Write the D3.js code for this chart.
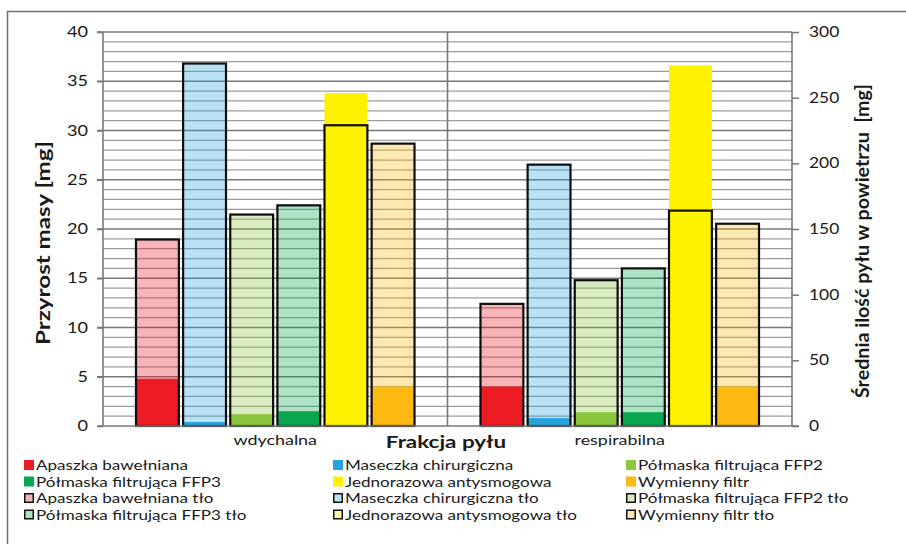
<!DOCTYPE html>
<html>
<head>
<meta charset="utf-8">
<script src="https://cdn.jsdelivr.net/npm/d3@7"></script>
<style>
  body { margin: 0; background: #fff; }
  svg { display: block; }
  text { font-family: Lato, "Open Sans", sans-serif; fill: #1a1a1a; }
</style>
</head>
<body>
<svg id="chart" width="906" height="544"></svg>
<script>
// Dust fractions on the category axis
const categories = ["wdychalna", "respirabilna"];

// Mask types, one bar each per fraction
const seriesNames = [
  "Apaszka bawełniana",
  "Maseczka chirurgiczna",
  "Półmaska filtrująca FFP2",
  "Półmaska filtrująca FFP3",
  "Jednorazowa antysmogowa",
  "Wymienny filtr"
];

// Mass gain of each mask [mg] (left axis)
const massWdychalna    = [4.8, 0.4, 1.2, 1.5, 33.8, 4.0];
const massRespirabilna = [4.0, 0.8, 1.4, 1.4, 36.6, 4.0];

// Background: mean amount of dust in the air [mg] (right axis)
const dustWdychalna    = [142, 276, 161, 168, 229, 215];
const dustRespirabilna = [93, 199, 111, 120, 164, 154];

const leftTicks  = [0, 5, 10, 15, 20, 25, 30, 35, 40];
const rightTicks = [0, 50, 100, 150, 200, 250, 300];

const seriesColors = ["#ed1c24", "#27a4de", "#8dc63f", "#0aa650", "#fff200", "#fdb913"];
const bgOpacity = 0.33;

const massByCategory = [massWdychalna, massRespirabilna];
const dustByCategory = [dustWdychalna, dustRespirabilna];

const svg = d3.select("#chart");
const plot = { left: 103, right: 792, top: 32, bottom: 426 };
const SX = 1.28; // horizontal text stretch

function stretch(sel, k) {
  sel.each(function () {
    const len = this.getComputedTextLength();
    d3.select(this).attr("textLength", len * k).attr("lengthAdjust", "spacingAndGlyphs");
  });
}

// Outer frame
svg.append("rect")
  .attr("x", 7.5).attr("y", 11.5).attr("width", 1000).attr("height", 1000)
  .attr("fill", "none").attr("stroke", "#707070").attr("stroke-width", 1.5);

// Scales
const x0 = d3.scaleBand().domain(categories).range([plot.left, plot.right]).padding(0);
const x1 = d3.scaleBand().domain(d3.range(seriesNames.length))
  .range([0, x0.bandwidth()]).paddingInner(0.09).paddingOuter(0.7);
const yL = d3.scaleLinear().domain([0, 40]).range([plot.bottom, plot.top]);
const yR = d3.scaleLinear().domain([0, 300]).range([plot.bottom, plot.top]);

// Gridlines: minor every 1 mg, major every 5 mg
const grid = svg.append("g");
grid.selectAll("line.minor")
  .data(d3.range(1, 40).filter(v => v % 5 !== 0))
  .join("line").attr("class", "minor")
  .attr("x1", plot.left).attr("x2", plot.right)
  .attr("y1", d => yL(d)).attr("y2", d => yL(d))
  .attr("stroke", "#9c9c9c").attr("stroke-width", 1.2);
grid.selectAll("line.major")
  .data(leftTicks.filter(v => v > 0))
  .join("line").attr("class", "major")
  .attr("x1", plot.left - 6).attr("x2", plot.right)
  .attr("y1", d => yL(d)).attr("y2", d => yL(d))
  .attr("stroke", "#777").attr("stroke-width", 1.6);

// Vertical lines: axes and category divider
const vlines = [plot.left, x0("respirabilna"), plot.right];
grid.selectAll("line.v").data(vlines).join("line").attr("class", "v")
  .attr("x1", d => d).attr("x2", d => d)
  .attr("y1", plot.top).attr("y2", plot.bottom)
  .attr("stroke", "#777").attr("stroke-width", 1.6);

// Solid bars: mass gain
const groups = svg.append("g").selectAll("g.cat").data(categories).join("g")
  .attr("class", "cat").attr("transform", d => `translate(${x0(d)},0)`);

groups.each(function (cat, ci) {
  const g = d3.select(this);
  g.selectAll("rect.mass").data(massByCategory[ci]).join("rect").attr("class", "mass")
    .attr("x", (d, i) => x1(i)).attr("width", x1.bandwidth())
    .attr("y", d => yL(d)).attr("height", d => yL(0) - yL(d))
    .attr("fill", (d, i) => seriesColors[i]);
});

// Outlined translucent bars: dust in the air
groups.each(function (cat, ci) {
  const g = d3.select(this);
  g.selectAll("rect.dust").data(dustByCategory[ci]).join("rect").attr("class", "dust")
    .attr("x", (d, i) => x1(i)).attr("width", x1.bandwidth())
    .attr("y", d => yR(d)).attr("height", d => yR(0) - yR(d))
    .attr("fill", (d, i) => seriesColors[i]).attr("fill-opacity", bgOpacity)
    .attr("stroke", "#0d0d0d").attr("stroke-width", 2.2);
});

// Bottom axis line
svg.append("line")
  .attr("x1", plot.left - 6).attr("x2", plot.right + 7)
  .attr("y1", plot.bottom).attr("y2", plot.bottom)
  .attr("stroke", "#777").attr("stroke-width", 1.6);

// Left axis
const axL = svg.append("g").attr("transform", `translate(${plot.left},0)`)
  .call(d3.axisLeft(yL).tickValues(leftTicks).tickSize(6).tickPadding(9));
axL.select(".domain").remove();
axL.selectAll(".tick line").attr("stroke", "#777").attr("stroke-width", 1.5);
axL.selectAll("text").attr("font-size", 14.5).attr("font-family", "Lato").attr("fill", "#222").call(stretch, 1.25);

// Right axis
const axR = svg.append("g").attr("transform", `translate(${plot.right},0)`)
  .call(d3.axisRight(yR).tickValues(rightTicks).tickSize(7).tickPadding(10));
axR.select(".domain").remove();
axR.selectAll(".tick line").attr("stroke", "#777").attr("stroke-width", 1.5);
axR.selectAll("text").attr("font-size", 14.5).attr("font-family", "Lato").attr("fill", "#222").call(stretch, 1.2);

// Category labels
svg.append("g").selectAll("text").data(categories).join("text")
  .attr("x", d => x0(d) + x0.bandwidth() / 2).attr("y", 445)
  .attr("text-anchor", "middle").attr("font-size", 14)
  .text(d => d).call(stretch, SX);

// Axis titles
svg.append("text").attr("x", 446).attr("y", 448)
  .attr("text-anchor", "middle").attr("font-size", 17.5).attr("font-weight", "bold")
  .text("Frakcja pyłu").call(stretch, SX);

svg.append("text").attr("transform", "translate(50,243) rotate(-90)")
  .attr("text-anchor", "middle").attr("font-size", 19).attr("font-weight", "bold")
  .text("Przyrost masy [mg]")
  .each(function () { d3.select(this).attr("textLength", 204).attr("lengthAdjust", "spacingAndGlyphs"); });

svg.append("text").attr("transform", "translate(869,241) rotate(-90)")
  .attr("text-anchor", "middle").attr("font-size", 18.5).attr("font-weight", "bold")
  .style("white-space", "pre")
  .text("Średnia ilość pyłu w powietrzu  [mg]")
  .each(function () { d3.select(this).attr("textLength", 314).attr("lengthAdjust", "spacingAndGlyphs"); });

// Legend: solid series first, then background series, three columns
const legendItems = seriesNames.map((n, i) => ({ name: n, i, bg: false }))
  .concat(seriesNames.map((n, i) => ({ name: n + " tło", i, bg: true })));
const legendCols = [24, 333, 626];
const legendRows = [465, 481.5, 498, 514.5];
const legend = svg.append("g").selectAll("g").data(legendItems).join("g")
  .attr("transform", (d, k) => `translate(${legendCols[k % 3]},${legendRows[Math.floor(k / 3)]})`);
legend.append("rect")
  .attr("x", d => d.bg ? 0.75 : 0).attr("y", d => d.bg ? -4.25 : -5)
  .attr("width", d => d.bg ? 8.5 : 10).attr("height", d => d.bg ? 8.5 : 10)
  .attr("fill", d => d.bg ? d3.interpolateRgb("#ffffff", seriesColors[d.i])(bgOpacity) : seriesColors[d.i])
  .attr("stroke", d => d.bg ? "#111" : "none").attr("stroke-width", 1.5);
legend.append("text")
  .attr("x", 12).attr("y", 5)
  .attr("font-size", 14)
  .text(d => d.name).call(stretch, 1.22);
</script>
</body>
</html>
